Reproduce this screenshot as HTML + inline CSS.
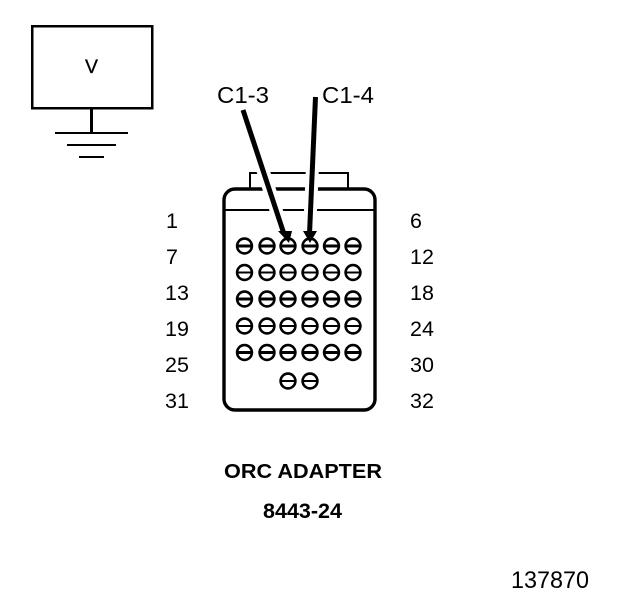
<!DOCTYPE html>
<html><head><meta charset="utf-8"><style>
html,body{margin:0;padding:0;background:#fff}
svg{display:block}
text{font-family:"Liberation Sans",sans-serif;fill:#000}
</style></head><body>
<svg width="624" height="600" viewBox="0 0 624 600" xmlns="http://www.w3.org/2000/svg" shape-rendering="crispEdges">
<rect width="624" height="600" fill="#fff"/>
<g fill="none" stroke="#000">
<rect x="32" y="26" width="120" height="82" stroke-width="2.5"/>
<path d="M91.5 109V133" stroke-width="3"/>
<path d="M55 133H128M67 145H116M79 157H104" stroke-width="2"/>
<path d="M250 188V173H348V188" stroke-width="2"/>
<path d="M224 210H375" stroke-width="1.6"/>
<rect x="224" y="189" width="151" height="221" rx="11" stroke-width="3.4" shape-rendering="auto"/>
</g>
<g fill="#fff" stroke="#000" stroke-width="2.6" shape-rendering="auto">
<g><circle cx="244.5" cy="246" r="7.4"/><circle cx="267" cy="246" r="7.4"/><circle cx="288" cy="246" r="7.4"/><circle cx="310" cy="246" r="7.4"/><circle cx="331.5" cy="246" r="7.4"/><circle cx="353" cy="246" r="7.4"/></g>
<g><circle cx="244.5" cy="272.500" r="7.4"/><circle cx="267" cy="272.500" r="7.4"/><circle cx="288" cy="272.500" r="7.4"/><circle cx="310" cy="272.500" r="7.4"/><circle cx="331.5" cy="272.500" r="7.4"/><circle cx="353" cy="272.500" r="7.4"/></g>
<g><circle cx="244.5" cy="299" r="7.4"/><circle cx="267" cy="299" r="7.4"/><circle cx="288" cy="299" r="7.4"/><circle cx="310" cy="299" r="7.4"/><circle cx="331.5" cy="299" r="7.4"/><circle cx="353" cy="299" r="7.4"/></g>
<g><circle cx="244.5" cy="326" r="7.4"/><circle cx="267" cy="326" r="7.4"/><circle cx="288" cy="326" r="7.4"/><circle cx="310" cy="326" r="7.4"/><circle cx="331.5" cy="326" r="7.4"/><circle cx="353" cy="326" r="7.4"/></g>
<g><circle cx="244.5" cy="352.500" r="7.4"/><circle cx="267" cy="352.500" r="7.4"/><circle cx="288" cy="352.500" r="7.4"/><circle cx="310" cy="352.500" r="7.4"/><circle cx="331.5" cy="352.500" r="7.4"/><circle cx="353" cy="352.500" r="7.4"/></g>
<g><circle cx="288" cy="381" r="7.4"/><circle cx="310" cy="381" r="7.4"/></g>
</g>
<g stroke="#000" fill="none">
<path d="M238 246H251M260 246H274M281 246H295M303 246H317M325 246H338M346 246H360" stroke-width="3"/>
<path d="M238 272.500H251M260 272.500H274M281 272.500H295M303 272.500H317M325 272.500H338M346 272.500H360" stroke-width="2"/>
<path d="M238 299H251M260 299H274M281 299H295M303 299H317M325 299H338M346 299H360" stroke-width="3"/>
<path d="M238 326H251M260 326H274M281 326H295M303 326H317M325 326H338M346 326H360" stroke-width="2"/>
<path d="M238 352.500H251M260 352.500H274M281 352.500H295M303 352.500H317M325 352.500H338M346 352.500H360" stroke-width="3"/>
<path d="M281 381H295M303 381H317" stroke-width="2"/>
</g>
<g shape-rendering="auto">
<path d="M243 110L284 234" stroke="#fff" stroke-width="13" fill="none"/>
<path d="M315.500 97L309.500 234" stroke="#fff" stroke-width="13" fill="none"/>
<path d="M243 110L284 234" stroke="#000" stroke-width="5" fill="none"/>
<path d="M315.500 97L309.500 234" stroke="#000" stroke-width="5" fill="none"/>
<path d="M278 231H292L289 243Z" fill="#000"/>
<path d="M303 231H317L310 243Z" fill="#000"/>
</g>
<g font-size="21.500">
<text x="85" y="73" font-size="19" textLength="13" lengthAdjust="spacingAndGlyphs" stroke="#000" stroke-width="0.3">V</text>
<text x="217" y="103" font-size="23" textLength="52" lengthAdjust="spacingAndGlyphs">C1-3</text>
<text x="322" y="103" font-size="23" textLength="52" lengthAdjust="spacingAndGlyphs">C1-4</text>
<text x="166" y="228">1</text>
<text x="166" y="264">7</text>
<text x="165" y="300">13</text>
<text x="165" y="336">19</text>
<text x="165" y="372">25</text>
<text x="165" y="408">31</text>
<text x="410" y="228">6</text>
<text x="410" y="264">12</text>
<text x="410" y="300">18</text>
<text x="410" y="336">24</text>
<text x="410" y="372">30</text>
<text x="410" y="408">32</text>
<text x="224" y="478" font-weight="bold" font-size="20" textLength="158" lengthAdjust="spacingAndGlyphs">ORC ADAPTER</text>
<text x="263" y="518" font-weight="bold" font-size="21" textLength="79" lengthAdjust="spacingAndGlyphs">8443-24</text>
<text x="511" y="588" font-size="24" textLength="78" lengthAdjust="spacingAndGlyphs">137870</text>
</g>
</svg>
</body></html>
